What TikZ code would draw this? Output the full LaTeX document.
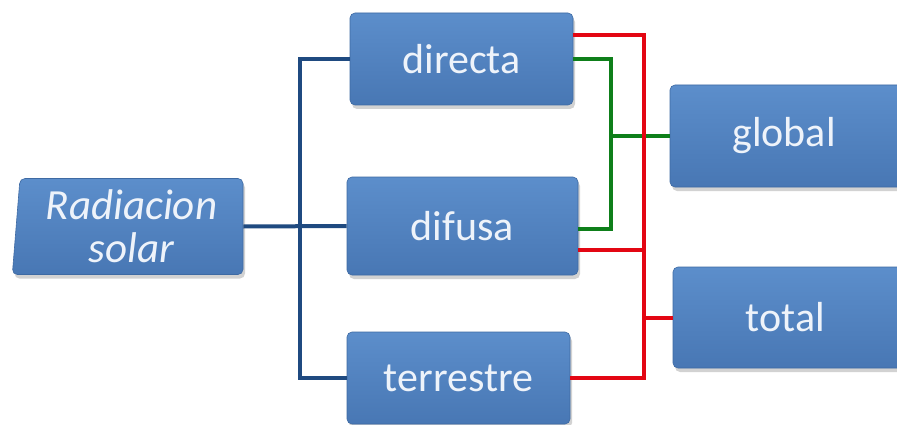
\documentclass[tikz,border=0pt]{standalone}
\usepackage{fontspec}
\setmainfont{Carlito}
\usetikzlibrary{shapes.geometric,shadows,calc}
\definecolor{boxtop}{HTML}{5C8ECB}
\definecolor{boxbot}{HTML}{4877B4}
\definecolor{boxedge}{HTML}{3E6AA3}
\definecolor{txt}{HTML}{EEF3FA}
\definecolor{navy}{HTML}{1F4A80}
\definecolor{lred}{HTML}{E30613}
\definecolor{lgreen}{HTML}{0E7F1A}
\tikzset{
  box/.style={rectangle, rounded corners=5pt, top color=boxtop, bottom color=boxbot,
    draw=boxedge, line width=0.6pt, text=txt, font=\fontsize{42}{44}\selectfont,
    align=center, inner sep=0pt,
    drop shadow={opacity=0.35, shadow xshift=2pt, shadow yshift=-4pt}},
  blueline/.style={draw=navy, line width=4pt},
  redline/.style={draw=lred, line width=4pt},
  greenline/.style={draw=lgreen, line width=4pt},
}
\begin{document}
\begin{tikzpicture}[x=1pt,y=-1pt]
\useasboundingbox (0,0) rectangle (897,425);
\fill[white] (0,0) rectangle (897,425);
\clip (0,0) rectangle (897,425);
% nodes
\node[box, shape=trapezium, trapezium left angle=84, trapezium right angle=90,
      minimum height=96pt, text width=223pt, trapezium stretches body,
      font=\fontsize{43}{45}\itshape\selectfont] (rad) at (131.5,226.5) {Radiacion\\[-2pt]solar};
\node[box, minimum width=223pt, minimum height=92pt] (directa) at (461.5,59) {directa};
\node[box, minimum width=231pt, minimum height=98pt] (difusa) at (462.5,226) {difusa};
\node[box, minimum width=223pt, minimum height=92pt] (terrestre) at (458.5,378) {terrestre};
\node[box, minimum width=250pt, minimum height=102pt] (global) at (795,136) {\hspace*{-22pt}global};
\node[box, minimum width=250pt, minimum height=101pt] (total) at (798,317.5) {\hspace*{-25pt}total};
\coordinate (bv) at (300,0);
\coordinate (gv) at (611,0);
\coordinate (rv) at (644,0);
\coordinate (dr) at ([yshift=-24pt]difusa.east);
% blue connectors
\draw[blueline] (rad.east) -- (difusa.west);
\draw[blueline] (directa.west) -| (bv |- rad.east) |- (terrestre.west);
% green connectors
\draw[greenline] (directa.east) -| (gv |- global.west) |- ([yshift=-3pt]difusa.east);
\draw[greenline] (gv |- global.west) -- (global.west);
% red connectors
\draw[redline] ([yshift=24pt]directa.east) -| (rv |- total.west) |- (terrestre.east);
\draw[redline] (dr) -- (rv |- dr);
\draw[redline] (rv |- total.west) -- (total.west);
\end{tikzpicture}
\end{document}
